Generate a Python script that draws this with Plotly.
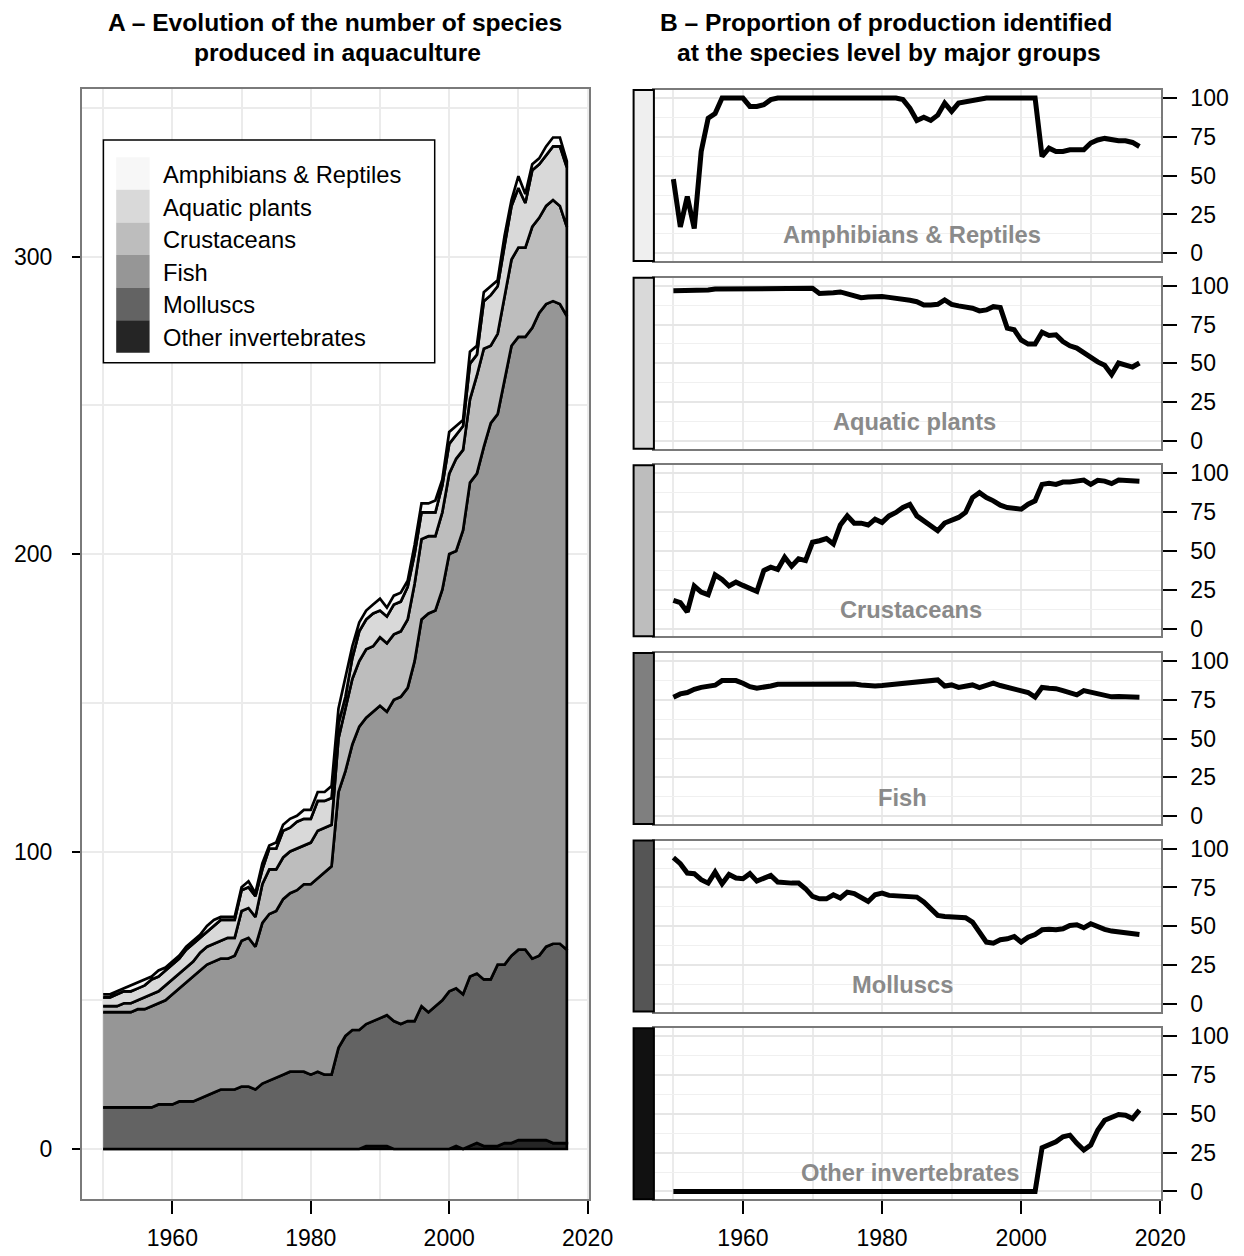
import plotly.graph_objects as go
import numpy as np

# ---------------- data ----------------
years = list(range(1950, 2018))

# Panel A: number of species produced, per group (stack order bottom -> top)
other_invertebrates = [0, 0, 0, 0, 0, 0, 0, 0, 0, 0,
                       0, 0, 0, 0, 0, 0, 0, 0, 0, 0,
                       0, 0, 0, 0, 0, 0, 0, 0, 0, 0,
                       0, 0, 0, 0, 0, 0, 0, 0, 1, 1,
                       1, 1, 0, 0, 0, 0, 0, 0, 0, 0,
                       0, 1, 0, 1, 2, 1, 1, 1, 2, 2,
                       3, 3, 3, 3, 3, 2, 2, 2]
molluscs = [14, 14, 14, 14, 14, 14, 14, 14, 15, 15,
            15, 16, 16, 16, 17, 18, 19, 20, 20, 20,
            21, 21, 20, 22, 23, 24, 25, 26, 26, 26,
            25, 26, 25, 25, 34, 38, 40, 40, 41, 42,
            43, 44, 43, 42, 43, 43, 48, 46, 48, 50,
            53, 53, 52, 57, 57, 56, 56, 61, 60, 63,
            64, 64, 61, 62, 65, 67, 67, 65]
fish = [32, 32, 32, 32, 32, 33, 33, 34, 34, 35,
        37, 38, 40, 42, 43, 44, 44, 44, 44, 45,
        49, 50, 48, 54, 56, 56, 59, 60, 61, 63,
        64, 65, 68, 70, 86, 89, 96, 102, 103, 104,
        105, 102, 108, 110, 112, 121, 130, 134, 133, 138,
        147, 147, 156, 166, 168, 179, 187, 185, 196, 205,
        206, 206, 212, 216, 216, 216, 215, 213]
crustaceans = [2, 2, 2, 3, 3, 3, 4, 4, 4, 5,
               5, 5, 5, 5, 6, 6, 6, 6, 7, 6,
               10, 10, 10, 13, 15, 14, 14, 14, 14, 13,
               14, 16, 15, 14, 18, 21, 22, 22, 23, 22,
               23, 23, 22, 22, 23, 26, 27, 26, 25, 26,
               27, 31, 27, 28, 33, 33, 26, 27, 29, 29,
               30, 30, 34, 32, 33, 34, 33, 30]
aquatic_plants = [3, 3, 4, 4, 4, 4, 4, 5, 5, 5,
                  5, 5, 6, 6, 5, 5, 6, 7, 6, 6,
                  7, 7, 7, 5, 7, 7, 9, 8, 9, 9,
                  8, 10, 9, 9, 5, 4, 7, 10, 10, 11,
                  9, 9, 10, 10, 11, 10, 9, 8, 8, 9,
                  10, 8, 8, 12, 7, 16, 17, 16, 17, 18,
                  20, 15, 19, 18, 17, 18, 20, 20]
amphibians_reptiles = [1, 1, 1, 1, 2, 2, 2, 1, 2, 1,
                       1, 1, 1, 1, 1, 2, 2, 1, 1, 1,
                       1, 2, 1, 2, 1, 2, 2, 3, 2, 3,
                       3, 3, 3, 4, 5, 6, 4, 3, 3, 3,
                       4, 3, 3, 3, 2, 3, 3, 3, 4, 2,
                       4, 3, 2, 4, 3, 3, 3, 2, 3, 2,
                       4, 3, 2, 2, 3, 3, 3, 2]

# Panel B: % of production identified at species level
pct_amphibians_reptiles = [47.7, 17.0, 36.5, 16.0, 65.6, 87.0, 90.0, 100, 100, 100,
                           100, 94.6, 94.6, 95.7, 99.0, 100, 100, 100, 100, 100,
                           100, 100, 100, 100, 100, 100, 100, 100, 100, 100,
                           100, 100, 100, 99.0, 93.5, 85.6, 87.7, 85.6, 89.0, 96.8,
                           91.4, 96.8, 97.8, 98.5, 99.4, 100, 100, 100, 100, 100,
                           100, 100, 100, 62.4, 67.7, 65.6, 65.6, 66.7, 66.7, 66.7,
                           71.0, 73.0, 74.0, 73.0, 72.5, 72.5, 71.4, 68.8]
pct_aquatic_plants = [96.8, 96.8, 96.8, 97.2, 97.2, 97.2, 97.9, 97.9, 97.9, 97.9,
                      97.9, 98.3, 98.3, 98.3, 98.3, 98.3, 98.3, 98.3, 98.3, 98.3,
                      98.3, 95.0, 95.0, 95.5, 96.0, 94.7, 93.0, 92.3, 92.7, 93.0,
                      93.0, 92.5, 92.0, 91.5, 90.6, 89.7, 87.6, 87.6, 88.0, 90.8,
                      88.0, 87.0, 86.5, 85.5, 83.8, 84.4, 86.5, 86.0, 72.6, 71.6,
                      65.0, 62.4, 62.4, 70.0, 67.9, 68.4, 64.0, 61.3, 59.8, 56.6,
                      53.4, 50.9, 48.7, 42.7, 50.2, 49.1, 47.6, 50.2]
pct_crustaceans = [18.2, 16.7, 10.7, 27.4, 23.5, 21.8, 34.6, 31.6, 27.4, 29.9,
                   27.8, 25.6, 23.9, 37.4, 39.5, 38.0, 46.0, 40.2, 44.9, 43.8,
                   55.6, 56.6, 58.0, 54.5, 66.7, 72.6, 67.9, 67.9, 66.7, 70.5,
                   68.4, 72.6, 74.8, 78.0, 80.0, 72.6, 69.4, 66.7, 63.0, 68.0,
                   69.4, 71.6, 74.8, 84.4, 87.6, 84.4, 82.3, 79.5, 78.0, 77.4,
                   76.9, 80.1, 82.3, 92.9, 93.6, 92.9, 94.4, 94.4, 94.7, 95.7,
                   92.9, 95.5, 95.0, 93.4, 95.7, 95.7, 95.7, 95.0]
pct_fish = [76.7, 78.8, 79.7, 81.8, 83.0, 83.9, 84.4, 87.4, 87.1, 87.4,
            85.7, 83.5, 82.5, 83.0, 83.9, 85.0, 85.0, 85.0, 85.0, 85.2,
            85.2, 85.3, 85.4, 85.5, 85.4, 85.7, 85.2, 84.6, 83.9, 83.9,
            84.2, 84.6, 85.0, 85.2, 85.7, 86.3, 87.2, 87.4, 87.8, 83.9,
            84.6, 83.0, 83.9, 84.6, 82.9, 84.6, 85.7, 84.2, 83.0, 81.8,
            80.9, 79.7, 76.7, 83.0, 82.4, 82.2, 80.9, 79.7, 78.2, 80.9,
            79.9, 78.8, 77.9, 76.9, 77.1, 77.1, 76.9, 76.7]
pct_molluscs = [94.2, 90.3, 84.3, 83.9, 80.0, 77.8, 84.9, 77.4, 83.4, 81.1,
                80.6, 83.9, 79.1, 80.6, 82.8, 78.5, 77.8, 77.8, 77.8, 74.2,
                69.2, 67.7, 67.7, 70.3, 68.2, 72.0, 71.0, 68.8, 66.0, 70.3,
                71.4, 69.9, 69.5, 69.5, 69.2, 68.8, 65.6, 61.3, 57.0, 56.3,
                55.9, 55.9, 55.5, 52.7, 46.2, 39.8, 39.1, 41.3, 41.9, 43.4,
                39.8, 43.0, 44.7, 47.7, 48.0, 47.7, 48.4, 50.5, 51.0, 49.0,
                51.6, 49.5, 48.0, 46.9, 46.2, 45.8, 45.2, 44.7]
pct_other_invertebrates = [0, 0, 0, 0, 0, 0, 0, 0, 0, 0,
                           0, 0, 0, 0, 0, 0, 0, 0, 0, 0,
                           0, 0, 0, 0, 0, 0, 0, 0, 0, 0,
                           0, 0, 0, 0, 0, 0, 0, 0, 0, 0,
                           0, 0, 0, 0, 0, 0, 0, 0, 0, 0,
                           0, 0, 0, 28.2, 30.3, 32.0, 35.3, 36.3, 31.0, 26.7,
                           29.9, 39.5, 45.9, 48.0, 49.6, 49.1, 47.0, 52.4]

group_names = ["Other invertebrates", "Molluscs", "Fish", "Crustaceans",
               "Aquatic plants", "Amphibians & Reptiles"]
area_colors = ["#252525", "#636363", "#969696", "#bdbdbd", "#d9d9d9", "#f7f7f7"]
x_ticks = [1960, 1980, 2000, 2020]
x_minor = [1950, 1970, 1990, 2010]
a_yticks = [0, 100, 200, 300]
a_yminor = [50, 150, 250, 350]
b_yticks = [0, 25, 50, 75, 100]
b_yminor = [12.5, 37.5, 62.5, 87.5]

# ---------------- layout helpers ----------------
# The page body has an 8px margin, so the figure is made 16px smaller and
# window-pixel positions are converted with that offset.
OFF = 8
W, H = 1228, 1240
FONT = "Liberation Sans, Arial, Helvetica, sans-serif"
GRID = "#ebebeb"
FRAME = "#7a7a7a"


def fx(p):
    return (p - OFF) / W


def fy(p):
    return 1 - (p - OFF) / H


fig = go.Figure()

# ---- Panel A: stacked areas (closed outlined polygons) ----
stack_values = [other_invertebrates, molluscs, fish, crustaceans,
                aquatic_plants, amphibians_reptiles]
base = np.zeros(len(years))
for name, vals, col in zip(group_names, stack_values, area_colors):
    top = base + np.asarray(vals, dtype=float)
    fig.add_trace(go.Scatter(
        x=years + years[::-1],
        y=np.concatenate([top, base[::-1]]),
        mode="lines", fill="toself", fillcolor=col,
        line=dict(color="black", width=2.7),
        name=name, xaxis="x", yaxis="y",
        hoverinfo="skip", showlegend=False))
    base = top

# ---- Panel B: six small line charts ----
panels = [
    ("Amphibians & Reptiles", pct_amphibians_reptiles, "#efefef", 1984.3),
    ("Aquatic plants", pct_aquatic_plants, "#d9d9d9", 1984.7),
    ("Crustaceans", pct_crustaceans, "#bdbdbd", 1984.1),
    ("Fish", pct_fish, "#7f7f7f", 1983.0),
    ("Molluscs", pct_molluscs, "#555555", 1983.0),
    ("Other invertebrates", pct_other_invertebrates, "#111111", 1984.1),
]
P_TOP0, P_STEP, P_H = 90.0, 187.65, 171.0
B_LEFT, B_RIGHT, BAR_LEFT = 653.9, 1161.0, 633.6

layout = dict(
    width=W, height=H, template="none",
    margin=dict(l=0, r=0, t=0, b=0),
    paper_bgcolor="white", plot_bgcolor="white",
    showlegend=False,
    font=dict(family=FONT, size=23, color="black"),
)

layout["xaxis"] = dict(
    domain=[fx(81.7), fx(589.0)], range=[1946.9, 2020.2], anchor="y",
    tickvals=x_ticks, ticks="outside", ticklen=13, tickwidth=1.5, tickcolor="black",
    showgrid=True, gridcolor=GRID, gridwidth=2,
    minor=dict(tickvals=x_minor, showgrid=True, gridcolor=GRID, gridwidth=2, ticks=""),
    showline=True, mirror=True, linecolor=FRAME, linewidth=1.5,
    zeroline=False, automargin=False, ticklabelstandoff=4,
    tickfont=dict(family=FONT, size=23, color="black"),
)
layout["yaxis"] = dict(
    domain=[fy(1199.3), fy(89.3)], range=[-16.9, 356.2], anchor="x",
    tickvals=a_yticks, ticks="outside", ticklen=8, tickwidth=1.5, tickcolor="black",
    showgrid=True, gridcolor=GRID, gridwidth=2,
    minor=dict(tickvals=a_yminor, showgrid=True, gridcolor=GRID, gridwidth=2, ticks=""),
    showline=True, mirror=True, linecolor=FRAME, linewidth=1.5,
    zeroline=False, automargin=False, ticklabelstandoff=15,
    tickfont=dict(family=FONT, size=23, color="black"),
)

shapes = []
annotations = []

for i, (name, vals, barcol, lx) in enumerate(panels):
    k = i + 2
    top_px = P_TOP0 + i * P_STEP
    bot_px = top_px + P_H
    fig.add_trace(go.Scatter(
        x=years, y=vals, mode="lines",
        line=dict(color="black", width=5),
        name=name, xaxis=f"x{k}", yaxis=f"y{k}",
        hoverinfo="skip", showlegend=False))
    last = (i == len(panels) - 1)
    layout[f"xaxis{k}"] = dict(
        domain=[fx(B_LEFT), fx(B_RIGHT)], range=[1947.2, 2020.1], anchor=f"y{k}",
        tickvals=x_ticks, showticklabels=last,
        ticks="outside" if last else "", ticklen=13, tickwidth=1.5, tickcolor="black",
        showgrid=True, gridcolor=GRID, gridwidth=1.5,
        minor=dict(tickvals=x_minor, showgrid=True, gridcolor=GRID, gridwidth=1.5, ticks=""),
        showline=True, mirror=True, linecolor=FRAME, linewidth=1.5,
        zeroline=False, automargin=False, ticklabelstandoff=4,
        tickfont=dict(family=FONT, size=23, color="black"),
    )
    layout[f"yaxis{k}"] = dict(
        domain=[fy(bot_px), fy(top_px)], range=[-5, 105.2], anchor=f"x{k}",
        side="right",
        tickvals=b_yticks, ticks="outside", ticklen=14, tickwidth=1.5, tickcolor="black",
        showgrid=True, gridcolor="#e6e6e6", gridwidth=1.5,
        minor=dict(tickvals=b_yminor, showgrid=True, gridcolor="#f0f0f0", gridwidth=1, ticks=""),
        showline=True, mirror=True, linecolor=FRAME, linewidth=1.5,
        zeroline=False, automargin=False, ticklabelstandoff=9,
        tickfont=dict(family=FONT, size=23, color="black"),
    )
    # group colour bar at the left of each panel
    shapes.append(dict(type="rect", xref="paper", yref="paper",
                       x0=fx(BAR_LEFT), x1=fx(B_LEFT), y0=fy(bot_px), y1=fy(top_px),
                       fillcolor=barcol, line=dict(color="black", width=2), layer="above"))
    annotations.append(dict(
        text=f"<b>{name}</b>", x=lx, y=12, xref=f"x{k}", yref=f"y{k}",
        showarrow=False, xanchor="center", yanchor="middle",
        font=dict(family=FONT, size=23.7, color="#8a8a8a")))

# ---- manual legend for panel A ----
LEG_L, LEG_R, LEG_T, LEG_B = 103.4, 434.7, 140.0, 362.7
SW_L, SW_R, SW_T, SW_B = 116.2, 149.6, 157.3, 352.7
shapes.append(dict(type="rect", xref="paper", yref="paper",
                   x0=fx(LEG_L), x1=fx(LEG_R), y0=fy(LEG_B), y1=fy(LEG_T),
                   fillcolor="white", line=dict(color="black", width=1.5), layer="above"))
legend_order = list(zip(group_names, area_colors))[::-1]  # top: Amphibians
sw_h = (SW_B - SW_T) / len(legend_order)
for j, (name, col) in enumerate(legend_order):
    t = SW_T + j * sw_h
    shapes.append(dict(type="rect", xref="paper", yref="paper",
                       x0=fx(SW_L), x1=fx(SW_R), y0=fy(t + sw_h), y1=fy(t),
                       fillcolor=col, line=dict(width=0), layer="above"))
    annotations.append(dict(
        text=name, x=fx(160.9), y=fy(t + sw_h / 2 + 1.5), xref="paper", yref="paper",
        showarrow=False, xanchor="left", yanchor="middle",
        font=dict(family=FONT, size=23.7, color="black")))

# ---- titles ----
for txt, cx, cy in [
    ("<b>A – Evolution of the number of species</b>", 335.0, 23.0),
    ("<b>produced in aquaculture</b>", 337.0, 53.0),
    ("<b>B – Proportion of production identified</b>", 886.0, 23.0),
    ("<b>at the species level by major groups</b>", 888.5, 53.0),
]:
    annotations.append(dict(
        text=txt, x=fx(cx), y=fy(cy), xref="paper", yref="paper",
        showarrow=False, xanchor="center", yanchor="middle",
        font=dict(family=FONT, size=24.6, color="black")))

layout["shapes"] = shapes
layout["annotations"] = annotations
fig.update_layout(**layout)

fig.write_html("out.html")
